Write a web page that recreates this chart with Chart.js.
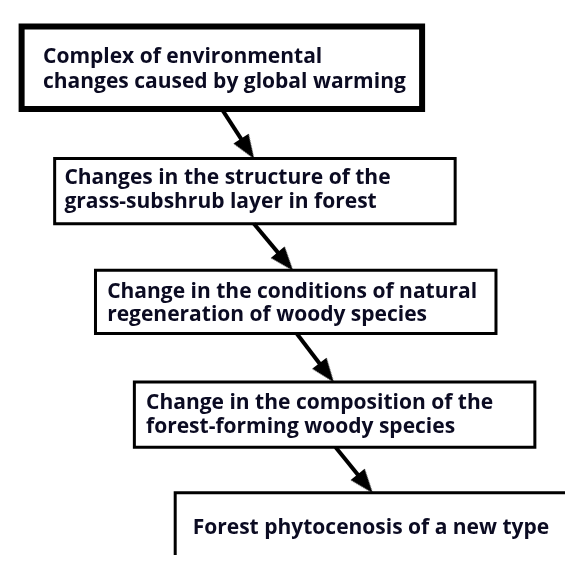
<!DOCTYPE html>
<html>
<head>
<meta charset="utf-8">
<script src="https://cdn.jsdelivr.net/npm/chart.js@4.4.1/dist/chart.umd.min.js"></script>
<style>
  html, body { margin: 0; padding: 0; background: #fff; }
  #wrap { width: 573px; height: 563px; position: relative; }
</style>
</head>
<body>
<div id="wrap"><canvas id="flow"></canvas></div>
<script>
// step texts, top to bottom
const step1 = ["Complex of environmental", "changes caused by global warming"];
const step2 = ["Changes in the structure of the", "grass-subshrub layer in forest"];
const step3 = ["Change in the conditions of natural", "regeneration of woody species"];
const step4 = ["Change in the composition of the", "forest-forming woody species"];
const step5 = ["Forest phytocenosis of a new type"];
const steps = [step1, step2, step3, step4, step5];

// layout (page pixels, y down)
const boxes = [
  { x0: 14, x1: 426, y0: 19, y1: 104, lw: 6 },
  { x0: 48, x1: 460, y0: 155, y1: 222, lw: 3 },
  { x0: 90, x1: 502, y0: 270, y1: 335, lw: 3 },
  { x0: 130, x1: 542, y0: 385, y1: 452, lw: 3 },
  { x0: 172, x1: 620, y0: 499, y1: 640, lw: 3 }
];
const textPos = [
  { x: 36, y: [50, 76] },
  { x: 58, y: [175, 200] },
  { x: 102, y: [292, 316] },
  { x: 142, y: [407, 431] },
  { x: 190, y: [535] }
];
const arrowX = [[220, 253], [253, 293], [297, 335], [337, 375]];

const HEAD_W = 18, HEAD_H = 24;

function arrowHead() {
  const c = document.createElement("canvas");
  c.width = HEAD_W;
  c.height = HEAD_H;
  const g = c.getContext("2d");
  g.fillStyle = "#000";
  g.beginPath();
  g.moveTo(HEAD_W / 2, 0);
  g.lineTo(HEAD_W, HEAD_H);
  g.lineTo(0, HEAD_H);
  g.closePath();
  g.fill();
  return c;
}

const head = arrowHead();
const datasets = [];

boxes.forEach((b) => {
  datasets.push({
    type: "line",
    data: [
      { x: b.x0, y: b.y0 }, { x: b.x1, y: b.y0 },
      { x: b.x1, y: b.y1 }, { x: b.x0, y: b.y1 },
      { x: b.x0, y: b.y0 }
    ],
    borderColor: "#000",
    borderWidth: b.lw,
    borderJoinStyle: "miter",
    borderCapStyle: "square",
    pointRadius: 0,
    fill: false,
    tension: 0
  });
});

arrowX.forEach(([fx, tx], i) => {
  const fy = boxes[i].y1;
  const ty = boxes[i + 1].y0;
  const dx = tx - fx, dy = ty - fy;
  const len = Math.hypot(dx, dy);
  const cx = tx - (dx / len) * HEAD_H / 2;
  const cy = ty - (dy / len) * HEAD_H / 2;
  datasets.push({
    type: "line",
    data: [{ x: fx, y: fy }, { x: cx, y: cy }],
    borderColor: "#000",
    borderWidth: 4,
    pointRadius: [0, 1],
    pointStyle: head,
    rotation: Math.atan2(dx, -dy) * 180 / Math.PI,
    fill: false
  });
});

const labelPlugin = {
  id: "stepLabels",
  afterDatasetsDraw(chart) {
    const { ctx, scales } = chart;
    ctx.save();
    ctx.font = "bold 21px 'Open Sans', Lato, sans-serif";
    ctx.fillStyle = "#0b0b22";
    ctx.textBaseline = "middle";
    steps.forEach((lines, i) => {
      lines.forEach((t, j) => {
        ctx.fillText(t, scales.x.getPixelForValue(textPos[i].x), scales.y.getPixelForValue(textPos[i].y[j]));
      });
    });
    ctx.restore();
  }
};

new Chart(document.getElementById("flow"), {
  type: "scatter",
  data: { datasets },
  options: {
    responsive: true,
    maintainAspectRatio: false,
    animation: false,
    events: [],
    layout: { padding: 0 },
    plugins: { legend: { display: false }, tooltip: { enabled: false } },
    scales: {
      x: { type: "linear", min: 0, max: 573, display: false },
      y: { type: "linear", min: 0, max: 563, reverse: true, display: false }
    }
  },
  plugins: [labelPlugin]
});
</script>
</body>
</html>
